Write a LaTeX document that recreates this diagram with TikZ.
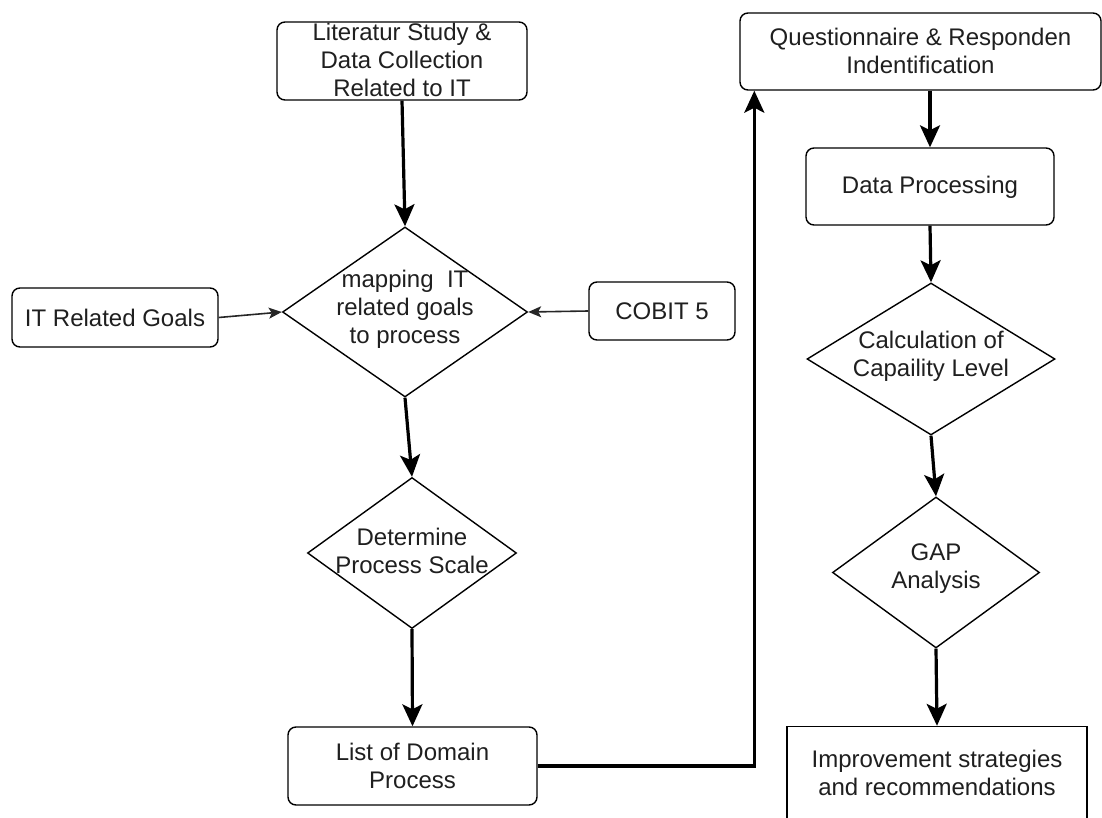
\documentclass[tikz,border=0pt]{standalone}
\usepackage{fontspec}
\setmainfont{Liberation Sans}
\usetikzlibrary{shapes.geometric,arrows.meta}
\newcommand\dgfont{\fontsize{24}{28}\selectfont}
\begin{document}
\begin{tikzpicture}[x=1pt,y=-1pt,
  box/.style={draw=black, line width=1.4pt, rounded corners=8pt, inner sep=0pt, fill=white},
  sqbox/.style={draw=black, line width=1.4pt, inner sep=0pt, fill=white},
  dia/.style={draw=black, line width=1.4pt, diamond, inner sep=0pt, fill=white},
  txt/.style={align=center, inner sep=0pt, font=\dgfont, text=black!88},
  flow/.style={draw=black, line width=3.2pt, -{Stealth[length=22pt,width=20pt,inset=5pt]}},
  feed/.style={draw=black!85, line width=1.6pt, -{Stealth[length=13pt,width=11pt,inset=3pt]}}
]
\useasboundingbox (0,0) rectangle (1102,818);

% left column
\node[box, minimum width=250pt, minimum height=78pt] (lit) at (402,61) {};
\node[txt] (littxt) at (402,60) {Literatur Study \&\\Data Collection\\Related to IT};

\node[dia, minimum width=245pt, minimum height=170pt] (d1) at (405,312) {};
\node[txt] (d1txt) at (405,309) {mapping \ IT\\related goals\\to process};

\node[box, minimum width=206pt, minimum height=59pt] (goals) at (115,317.5) {};
\node[txt] (goalstxt) at (115,317.5) {IT Related Goals};

\node[box, minimum width=146pt, minimum height=58pt] (cobit) at (662,311) {};
\node[txt] (cobittxt) at (662,311) {COBIT 5};

\node[dia, minimum width=209pt, minimum height=151pt] (d2) at (412,553) {};
\node[txt] (d2txt) at (412,551) {Determine\\Process Scale};

\node[box, minimum width=249pt, minimum height=78pt] (list) at (412.5,766) {};
\node[txt] (listtxt) at (412.5,766) {List of Domain\\Process};

% right column
\node[box, minimum width=361pt, minimum height=77pt] (q) at (920.5,51.5) {};
\node[txt] (qtxt) at (920.5,51) {Questionnaire \& Responden\\Indentification};

\node[box, minimum width=248pt, minimum height=77pt] (dp) at (930,186.5) {};
\node[txt] (dptxt) at (930,187) {Data Processing};

\node[dia, minimum width=248pt, minimum height=152pt] (calc) at (931,359) {};
\node[txt] (calctxt) at (931,356) {Calculation of\\Capaility Level};

\node[dia, minimum width=207pt, minimum height=151pt] (gap) at (936,572.5) {};
\node[txt] (gaptxt) at (936,569) {GAP\\Analysis};

\node[sqbox, minimum width=300pt, minimum height=93pt] (impr) at (937,773) {};
\node[txt] (imprtxt) at (937,773) {Improvement strategies\\and recommendations};

% connectors
\draw[flow] (lit.south) -- (d1.north);
\draw[feed] (goals.east) -- (d1.west);
\draw[feed] (cobit.west) -- (d1.east);
\draw[flow] (d1.south) -- (d2.north);
\draw[flow] (d2.south) -- (list.north);
\draw[flow] (list.east) -| ([xshift=15pt]q.south west);
\draw[flow] (q.south -| dp.north) -- (dp.north);
\draw[flow] (dp.south) -- (calc.north);
\draw[flow] (calc.south) -- (gap.north);
\draw[flow] (gap.south) -- (impr.north);
\end{tikzpicture}
\end{document}
